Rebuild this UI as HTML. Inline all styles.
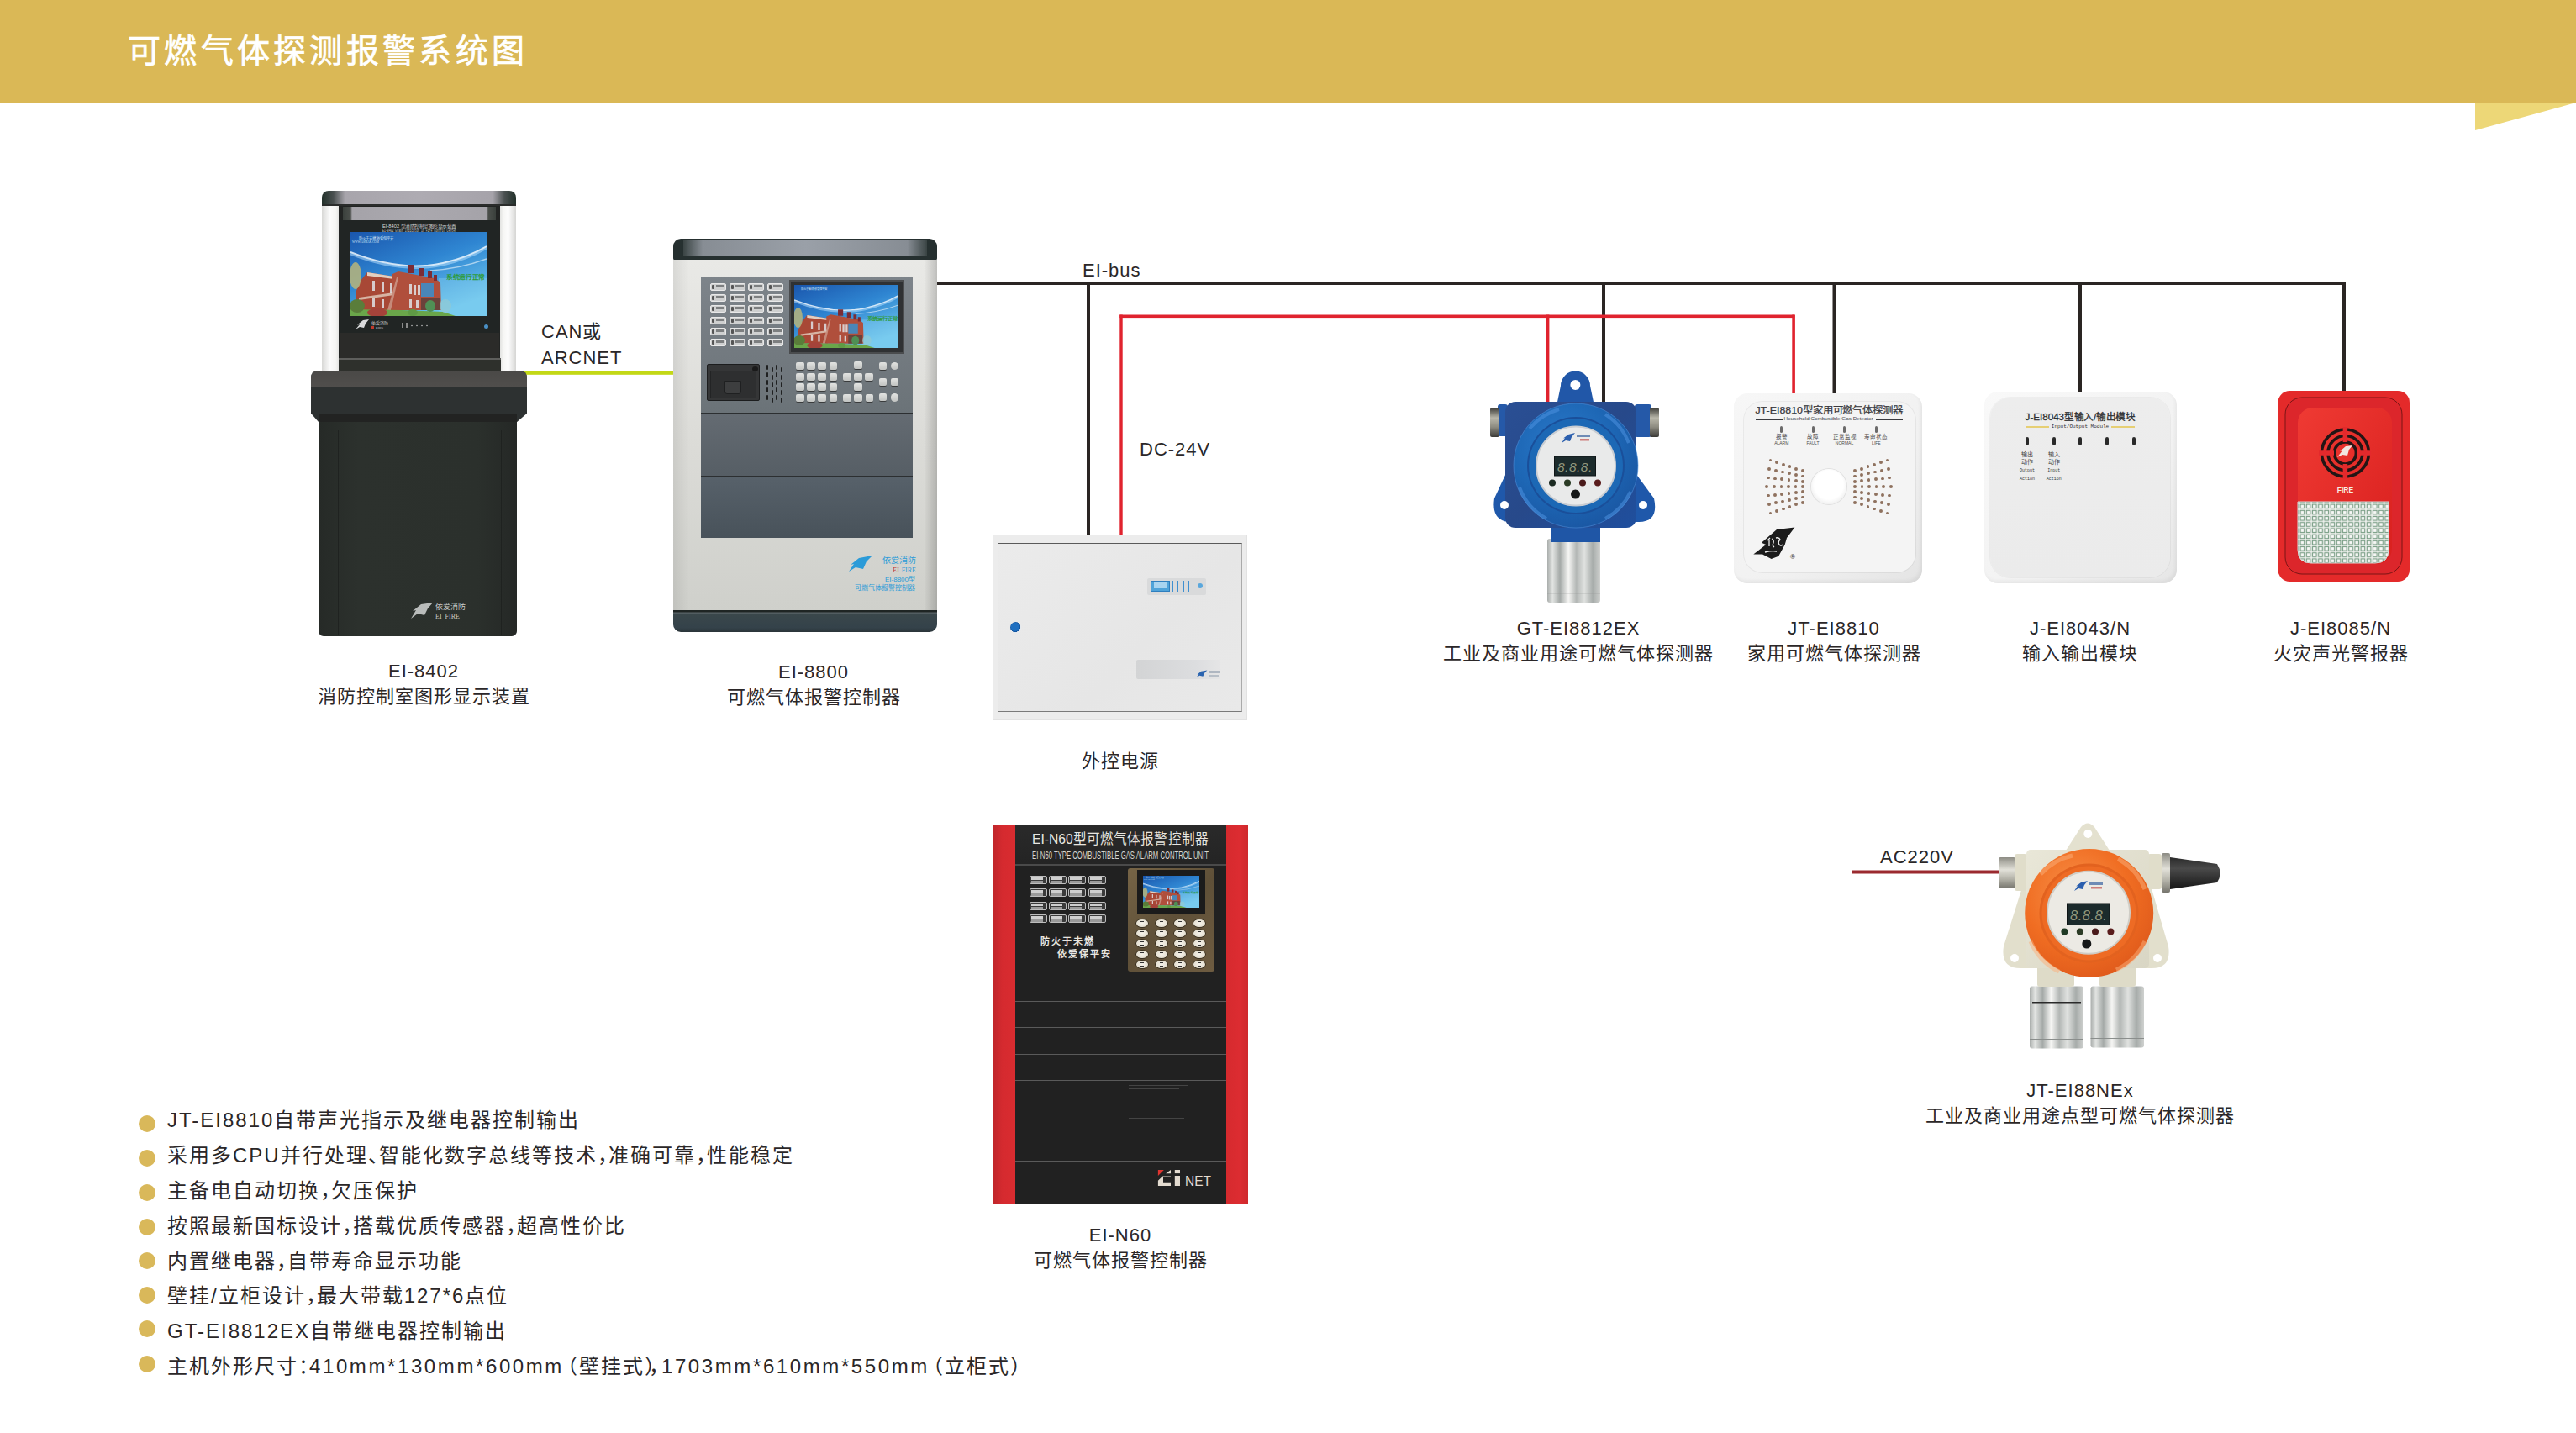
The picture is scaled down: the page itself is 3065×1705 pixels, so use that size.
<!DOCTYPE html>
<html lang="zh-CN">
<head>
<meta charset="utf-8">
<style>
*{box-sizing:border-box;margin:0;padding:0}
html,body{width:3065px;height:1705px;overflow:hidden;background:#fff}
body{position:relative;font-family:"Liberation Sans",sans-serif;color:#2b2728}
.a{position:absolute}
.hdr{left:0;top:0;width:3065px;height:122px;background:#dab856}
.title{left:152px;top:36px;font-size:39px;line-height:50px;color:#fff;letter-spacing:4.3px;font-weight:400;-webkit-text-stroke:.7px #fff;white-space:nowrap}
.lbl{position:absolute;text-align:center;white-space:nowrap;font-size:22px;letter-spacing:1px;line-height:30px}
.bl{position:absolute;left:199px;font-size:24px;letter-spacing:2px;line-height:30px;white-space:nowrap}
.dot{position:absolute;left:165px;width:20px;height:20px;border-radius:50%;background:#d9b85a}
.p{letter-spacing:-11px}
.q{margin-left:-8px}
.w{letter-spacing:2.6px}
</style>
</head>
<body>
<div class="a hdr"></div>
<div class="a title">可燃气体探测报警系统图</div>
<svg class="a" style="left:0;top:0" width="3065" height="1705">
  <polygon points="2945,122 3065,122 2945,155" fill="#edd777"/>
  <!-- green CAN line -->
  <rect x="620" y="441.5" width="182" height="4.3" fill="#c3d816"/>
  <!-- black bus -->
  <g fill="#2a2523">
    <rect x="1114" y="335" width="1677" height="4"/>
    <rect x="2787" y="335" width="4" height="130"/>
    <rect x="1293" y="335" width="4" height="301"/>
    <rect x="1906" y="335" width="4" height="145"/>
    <rect x="2180.5" y="335" width="4" height="134"/>
    <rect x="2473" y="335" width="4" height="131"/>
  </g>
  <g fill="#e0232e">
    <rect x="1332.3" y="374.5" width="803" height="3.6"/>
    <rect x="1332.3" y="374.5" width="3.4" height="262"/>
    <rect x="1840" y="374.5" width="3.4" height="104"/>
    <rect x="2132.3" y="374.5" width="3.6" height="94"/>
  </g>
  <rect x="2203" y="1035.5" width="176" height="4" fill="#9b2a2f"/>
</svg>

<!-- line labels -->
<div class="lbl" style="left:644px;top:379px;text-align:left;line-height:31px">CAN或<br>ARCNET</div>
<div class="lbl" style="left:1288px;top:307px">EI-bus</div>
<div class="lbl" style="left:1356px;top:520px">DC-24V</div>
<div class="lbl" style="left:2237px;top:1005px">AC220V</div>

<!-- product labels -->
<div class="lbl" style="left:204px;width:600px;top:784px">EI-8402<br>消防控制室图形显示装置</div>
<div class="lbl" style="left:668px;width:600px;top:785px">EI-8800<br>可燃气体报警控制器</div>
<div class="lbl" style="left:1033px;width:600px;top:891px">外控电源</div>
<div class="lbl" style="left:1578px;width:600px;top:733px">GT-EI8812EX<br>工业及商业用途可燃气体探测器</div>
<div class="lbl" style="left:1882px;width:600px;top:733px">JT-EI8810<br>家用可燃气体探测器</div>
<div class="lbl" style="left:2175px;width:600px;top:733px">J-EI8043/N<br>输入输出模块</div>
<div class="lbl" style="left:2485px;width:600px;top:733px">J-EI8085/N<br>火灾声光警报器</div>
<div class="lbl" style="left:1033px;width:600px;top:1455px">EI-N60<br>可燃气体报警控制器</div>
<div class="lbl" style="left:2175px;width:600px;top:1283px">JT-EI88NEx<br>工业及商业用途点型可燃气体探测器</div>

<!-- bullets -->
<div class="dot" style="top:1327px"></div>
<div class="dot" style="top:1368px"></div>
<div class="dot" style="top:1409px"></div>
<div class="dot" style="top:1450px"></div>
<div class="dot" style="top:1490px"></div>
<div class="dot" style="top:1531px"></div>
<div class="dot" style="top:1571px"></div>
<div class="dot" style="top:1613px"></div>
<div class="bl" style="top:1318.4px">JT-EI8810自带声光指示及继电器控制输出</div>
<div class="bl" style="top:1360.2px">采用多CPU并行处理<span class="p">、</span>智能化数字总线等技术<span class="p">，</span>准确可靠<span class="p">，</span>性能稳定</div>
<div class="bl" style="top:1402px">主备电自动切换<span class="p">，</span>欠压保护</div>
<div class="bl" style="top:1443.8px">按照最新国标设计<span class="p">，</span>搭载优质传感器<span class="p">，</span>超高性价比</div>
<div class="bl" style="top:1485.6px">内置继电器<span class="p">，</span>自带寿命显示功能</div>
<div class="bl" style="top:1527.4px">壁挂/立柜设计<span class="p">，</span>最大带载127*6点位</div>
<div class="bl" style="top:1569.2px">GT-EI8812EX自带继电器控制输出</div>
<div class="bl" style="top:1611px">主机外形尺寸<span class="p">：</span><span class="w">410mm*130mm*600mm</span><span class="q">（</span>壁挂式<span class="p">）</span><span style="margin-left:4px;letter-spacing:-9px">，</span><span class="w">1703mm*610mm*550mm</span><span class="q">（</span>立柜式）</div>

<!-- PRODUCTS -->
<svg width="0" height="0" style="position:absolute">
<defs>
  <linearGradient id="sky" x1="0" y1="0" x2="0.6" y2="1">
    <stop offset="0" stop-color="#1a56ad"/>
    <stop offset="0.5" stop-color="#2f86d2"/>
    <stop offset="1" stop-color="#6cc6ee"/>
  </linearGradient>
  <linearGradient id="steel" x1="0" y1="0" x2="1" y2="0">
    <stop offset="0" stop-color="#a9adab"/>
    <stop offset="0.1" stop-color="#e2e4e2"/>
    <stop offset="0.24" stop-color="#a4a9a7"/>
    <stop offset="0.4" stop-color="#f6f6f4"/>
    <stop offset="0.55" stop-color="#b3b7b5"/>
    <stop offset="0.7" stop-color="#e0e2e0"/>
    <stop offset="0.86" stop-color="#a7acaa"/>
    <stop offset="1" stop-color="#cfd1cf"/>
  </linearGradient>
  <symbol id="scr" viewBox="0 0 162 100" preserveAspectRatio="none">
    <rect width="162" height="100" fill="url(#sky)"/>
    <path d="M0 24 Q60 48 110 37 Q140 30 162 17" stroke="#ffffff" stroke-opacity=".8" stroke-width="2" fill="none"/>
    <path d="M0 26 Q60 50 110 39 Q140 32 162 19" stroke="#bfe6ff" stroke-opacity=".5" stroke-width="3" fill="none"/>
    <path d="M95 46 Q130 44 162 32" stroke="#ffffff" stroke-opacity=".55" stroke-width="1.5" fill="none"/>
    <rect x="105" y="55" width="57" height="45" fill="#8fd3f2" fill-opacity=".35"/>
    <polygon points="6,72 12,58 20,48 52,53 52,93 6,93" fill="#a84836"/>
    <polygon points="20,48 52,53 52,56 20,52" fill="#e2cfc0"/>
    <polygon points="10,78 52,72 52,75 10,81" fill="#e2cfc0" fill-opacity=".8"/>
    <polygon points="50,50 57,47 100,55 107,60 108,93 50,93" fill="#b04f3c"/>
    <polygon points="44,93 55,54 57,54 48,93" fill="#d9b6a6" fill-opacity=".6"/>
    <rect x="84" y="61" width="15" height="16" fill="#4a86b8"/>
    <g fill="#7b2c35"><rect x="68" y="39" width="8" height="10"/><rect x="82" y="43" width="6" height="9"/><rect x="92" y="47" width="5" height="8"/><rect x="99" y="51" width="4" height="7"/></g>
    <g fill="#dfe3e6" fill-opacity=".85">
      <rect x="26" y="58" width="3" height="12"/><rect x="37" y="60" width="3" height="12"/><rect x="47" y="61" width="3" height="12"/>
      <rect x="26" y="79" width="3" height="10"/><rect x="37" y="80" width="3" height="10"/>
      <rect x="70" y="62" width="3" height="12"/><rect x="75" y="63" width="3" height="12"/><rect x="80" y="63" width="3" height="12"/>
      <rect x="70" y="80" width="3" height="10"/><rect x="78" y="81" width="3" height="9"/>
    </g>
    <rect x="84" y="79" width="22" height="14" fill="#3d3a3a" fill-opacity=".6"/>
    <polygon points="0,92 60,93 110,95 125,100 0,100" fill="#6aa64a"/>
    <ellipse cx="32" cy="96" rx="12" ry="5" fill="#a5433a"/>
    <ellipse cx="74" cy="96" rx="6" ry="4" fill="#5f9a45"/>
    <ellipse cx="95" cy="88" rx="6" ry="7" fill="#4f8f55"/>
    <ellipse cx="113" cy="88" rx="7" ry="8" fill="#8fc9d6" fill-opacity=".8"/>
    <ellipse cx="6" cy="52" rx="7" ry="16" fill="#b9b57a" fill-opacity=".85"/>
    <ellipse cx="8" cy="88" rx="9" ry="8" fill="#5a7d3a"/>
    <text x="114" y="56" font-size="7" fill="#2e9b3a" font-family="Liberation Serif,serif" font-weight="bold" textLength="46" lengthAdjust="spacingAndGlyphs">系统运行正常</text>
    <text x="10" y="8.5" font-size="4.5" fill="#cfe3f5">防火于未燃 依爱保平安</text>
    <text x="2" y="12.5" font-size="3.5" fill="#cfe3f5" font-family="Liberation Serif,serif">WWW.ASMAK.COM</text>
  </symbol>
</defs>
</svg>

<!--P1-->
<!-- EI-8402 kiosk -->
<div class="a" style="left:383px;top:227px;width:231px;height:18px;border-radius:8px 8px 0 0;background:linear-gradient(90deg,#22302a,#4a5050 6%,#a8a5ac 12%,#aeabb2 50%,#a6a3aa 88%,#4a5050 94%,#22302a)"></div><div class="a" style="left:383px;top:243px;width:231px;height:2px;background:#2a2c2b"></div>
<div class="a" style="left:383px;top:245px;width:24px;height:197px;background:linear-gradient(90deg,#d8d8d6,#fbfbfb 40%,#f4f4f2 70%,#cfd0ce)"></div>
<div class="a" style="left:591px;top:245px;width:23px;height:197px;background:linear-gradient(90deg,#cfd0ce,#f6f6f4 35%,#fdfdfd 60%,#d6d6d4)"></div>
<div class="a" style="left:403px;top:245px;width:192px;height:197px;background:#222423"></div>
<div class="a" style="left:408px;top:246px;width:182px;height:16px;background:linear-gradient(90deg,#3a403c,#4b4f4b 5%,#a5a3a9 6%,#aaa8ae 50%,#a5a3a9 94%,#4b4f4b 95%,#3a403c)"></div>
<div class="a" style="left:404px;top:262px;width:190px;height:134px;background:#212524"></div>
<svg class="a" style="left:450px;top:265px" width="100" height="12"><text x="5" y="5.5" font-size="5.2" textLength="88" lengthAdjust="spacingAndGlyphs" fill="#d8d8d8">EI-8402 型消防控制室图形显示装置</text><text x="5" y="11" font-size="4.8" textLength="88" lengthAdjust="spacingAndGlyphs" fill="#c8c8c8" font-family="Liberation Mono,monospace">EI-8402 Graph Indicator In Fire Control Center</text></svg>

<svg class="a" style="left:417px;top:276px" width="162" height="100" viewBox="0 0 162 100"><use href="#scr"/></svg>
<svg class="a" style="left:420px;top:378px" width="100" height="16"><path d="M3 14 L8 8 L5 8.5 L12 3 L19 2 L15 7 L13 12 L8 11 Z" fill="#d9dadb"/><text x="22" y="8" font-size="5" fill="#cfcfcf">依爱消防</text><rect x="22" y="10" width="3" height="3.5" fill="#c0392b"/><text x="27" y="13.5" font-size="4" fill="#bfbfbf">FIRE</text><rect x="58" y="6" width="2" height="6" fill="#8a8a8a"/><rect x="63" y="6" width="2" height="6" fill="#8a8a8a"/><g fill="#bdbdbd"><circle cx="70" cy="9.5" r=".8"/><circle cx="76" cy="9.5" r=".8"/><circle cx="82" cy="9.5" r=".8"/><circle cx="88" cy="9.5" r=".8"/></g></svg>

<div class="a" style="left:576px;top:386px;width:5px;height:5px;border-radius:50%;background:#4a8fc4"></div>
<div class="a" style="left:404px;top:396px;width:190px;height:30px;background:#2b2b29"></div>
<div class="a" style="left:403px;top:426px;width:193px;height:2px;background:#5e5e5c"></div><div class="a" style="left:403px;top:428px;width:193px;height:14px;background:#2e302c"></div>
<div class="a" style="left:370px;top:441px;width:257px;height:61px;background:#2d3131;clip-path:polygon(0 0,100% 0,100% 83%,95.4% 100%,3.5% 100%,0 83%);border-radius:8px 8px 0 0"></div>
<div class="a" style="left:370px;top:441px;width:257px;height:19px;background:linear-gradient(#4a4947,#504e4c);border-radius:8px 8px 0 0"></div>
<div class="a" style="left:379px;top:492px;width:236px;height:265px;background:linear-gradient(90deg,#262a27,#2c312d 20%,#2b302c 80%,#252826);border-radius:0 0 6px 6px"></div>
<div class="a" style="left:379px;top:492px;width:236px;height:10px;background:#222322"></div>
<div class="a" style="left:402px;top:512px;width:1px;height:244px;background:#1f2220"></div>
<div class="a" style="left:596px;top:512px;width:1px;height:244px;background:#1f2220"></div>

<svg class="a" style="left:487px;top:716px" width="30" height="22" viewBox="0 0 30 22"><path d="M2 20 L8 10 L4 11 L14 3 L28 1 L22 8 L18 16 L10 14 Z" fill="#b9bcbb"/></svg>
<div class="a" style="left:518px;top:717px;width:40px;font-size:9px;line-height:11px;color:#c9cbc9;white-space:nowrap">依爱消防<br><span style="font-family:'Liberation Serif',serif;font-size:8px">EI&nbsp;&nbsp;FIRE</span></div>

<!--/P1-->
<!--P2-->
<!-- EI-8800 -->
<div class="a" style="left:801px;top:284px;width:314px;height:26px;border-radius:9px 9px 3px 3px;background:#263030;overflow:hidden"><div style="position:absolute;left:12px;right:12px;top:2px;height:19px;background:linear-gradient(90deg,#3a4444,#878d94 8%,#9aa0a8 50%,#878d94 92%,#3a4444)"></div></div>
<div class="a" style="left:801px;top:309px;width:314px;height:418px;background:linear-gradient(90deg,rgba(0,0,0,.07),rgba(0,0,0,0) 6%,rgba(0,0,0,0) 95%,rgba(0,0,0,.18)),linear-gradient(#e9e9e6,#dcdcd8 50%,#cfd0cb)"></div>
<div class="a" style="left:801px;top:726px;width:314px;height:26px;border-radius:0 0 9px 9px;background:linear-gradient(#1f2524 0,#1f2524 2px,#5a6468 3px,#3a474b 5px,#34424a 80%,#2a3438)"></div>
<div class="a" style="left:834px;top:329px;width:252px;height:163px;background:linear-gradient(#7d848a,#747b81 50%,#6b7378)"></div>
<div class="a" style="left:834px;top:491px;width:252px;height:2px;background:#2c2f31"></div>
<div class="a" style="left:834px;top:493px;width:252px;height:73px;background:linear-gradient(#646b72,#565e65)"></div>
<div class="a" style="left:834px;top:566px;width:252px;height:2px;background:#2c2f31"></div>
<div class="a" style="left:834px;top:568px;width:252px;height:72px;background:linear-gradient(#57616a,#48525a)"></div>
<div class="a" style="left:939px;top:333px;width:137px;height:88px;background:#2f3133;border:2px solid #4a4c4e"></div>
<svg class="a" style="left:945px;top:339px" width="124" height="75" viewBox="0 0 162 100" preserveAspectRatio="none"><use href="#scr"/></svg>
<div class="a" style="left:845.0px;top:337.0px;width:19px;height:9px;border-radius:2px;background:#cfd0d0;border:1px solid #e8e8e8"><div style="position:absolute;left:1px;top:1px;width:3px;height:5px;background:#555;border-radius:1px"></div><div style="position:absolute;left:6px;top:1px;width:10px;height:3px;background:#7d7f80"></div></div>
<div class="a" style="left:867.6px;top:337.0px;width:19px;height:9px;border-radius:2px;background:#cfd0d0;border:1px solid #e8e8e8"><div style="position:absolute;left:1px;top:1px;width:3px;height:5px;background:#555;border-radius:1px"></div><div style="position:absolute;left:6px;top:1px;width:10px;height:3px;background:#7d7f80"></div></div>
<div class="a" style="left:890.2px;top:337.0px;width:19px;height:9px;border-radius:2px;background:#cfd0d0;border:1px solid #e8e8e8"><div style="position:absolute;left:1px;top:1px;width:3px;height:5px;background:#555;border-radius:1px"></div><div style="position:absolute;left:6px;top:1px;width:10px;height:3px;background:#7d7f80"></div></div>
<div class="a" style="left:912.8px;top:337.0px;width:19px;height:9px;border-radius:2px;background:#cfd0d0;border:1px solid #e8e8e8"><div style="position:absolute;left:1px;top:1px;width:3px;height:5px;background:#555;border-radius:1px"></div><div style="position:absolute;left:6px;top:1px;width:10px;height:3px;background:#7d7f80"></div></div>
<div class="a" style="left:845.0px;top:350.2px;width:19px;height:9px;border-radius:2px;background:#cfd0d0;border:1px solid #e8e8e8"><div style="position:absolute;left:1px;top:1px;width:3px;height:5px;background:#555;border-radius:1px"></div><div style="position:absolute;left:6px;top:1px;width:10px;height:3px;background:#7d7f80"></div></div>
<div class="a" style="left:867.6px;top:350.2px;width:19px;height:9px;border-radius:2px;background:#cfd0d0;border:1px solid #e8e8e8"><div style="position:absolute;left:1px;top:1px;width:3px;height:5px;background:#555;border-radius:1px"></div><div style="position:absolute;left:6px;top:1px;width:10px;height:3px;background:#7d7f80"></div></div>
<div class="a" style="left:890.2px;top:350.2px;width:19px;height:9px;border-radius:2px;background:#cfd0d0;border:1px solid #e8e8e8"><div style="position:absolute;left:1px;top:1px;width:3px;height:5px;background:#555;border-radius:1px"></div><div style="position:absolute;left:6px;top:1px;width:10px;height:3px;background:#7d7f80"></div></div>
<div class="a" style="left:912.8px;top:350.2px;width:19px;height:9px;border-radius:2px;background:#cfd0d0;border:1px solid #e8e8e8"><div style="position:absolute;left:1px;top:1px;width:3px;height:5px;background:#555;border-radius:1px"></div><div style="position:absolute;left:6px;top:1px;width:10px;height:3px;background:#7d7f80"></div></div>
<div class="a" style="left:845.0px;top:363.4px;width:19px;height:9px;border-radius:2px;background:#cfd0d0;border:1px solid #e8e8e8"><div style="position:absolute;left:1px;top:1px;width:3px;height:5px;background:#555;border-radius:1px"></div><div style="position:absolute;left:6px;top:1px;width:10px;height:3px;background:#7d7f80"></div></div>
<div class="a" style="left:867.6px;top:363.4px;width:19px;height:9px;border-radius:2px;background:#cfd0d0;border:1px solid #e8e8e8"><div style="position:absolute;left:1px;top:1px;width:3px;height:5px;background:#555;border-radius:1px"></div><div style="position:absolute;left:6px;top:1px;width:10px;height:3px;background:#7d7f80"></div></div>
<div class="a" style="left:890.2px;top:363.4px;width:19px;height:9px;border-radius:2px;background:#cfd0d0;border:1px solid #e8e8e8"><div style="position:absolute;left:1px;top:1px;width:3px;height:5px;background:#555;border-radius:1px"></div><div style="position:absolute;left:6px;top:1px;width:10px;height:3px;background:#7d7f80"></div></div>
<div class="a" style="left:912.8px;top:363.4px;width:19px;height:9px;border-radius:2px;background:#cfd0d0;border:1px solid #e8e8e8"><div style="position:absolute;left:1px;top:1px;width:3px;height:5px;background:#555;border-radius:1px"></div><div style="position:absolute;left:6px;top:1px;width:10px;height:3px;background:#7d7f80"></div></div>
<div class="a" style="left:845.0px;top:376.6px;width:19px;height:9px;border-radius:2px;background:#cfd0d0;border:1px solid #e8e8e8"><div style="position:absolute;left:1px;top:1px;width:3px;height:5px;background:#555;border-radius:1px"></div><div style="position:absolute;left:6px;top:1px;width:10px;height:3px;background:#7d7f80"></div></div>
<div class="a" style="left:867.6px;top:376.6px;width:19px;height:9px;border-radius:2px;background:#cfd0d0;border:1px solid #e8e8e8"><div style="position:absolute;left:1px;top:1px;width:3px;height:5px;background:#555;border-radius:1px"></div><div style="position:absolute;left:6px;top:1px;width:10px;height:3px;background:#7d7f80"></div></div>
<div class="a" style="left:890.2px;top:376.6px;width:19px;height:9px;border-radius:2px;background:#cfd0d0;border:1px solid #e8e8e8"><div style="position:absolute;left:1px;top:1px;width:3px;height:5px;background:#555;border-radius:1px"></div><div style="position:absolute;left:6px;top:1px;width:10px;height:3px;background:#7d7f80"></div></div>
<div class="a" style="left:912.8px;top:376.6px;width:19px;height:9px;border-radius:2px;background:#cfd0d0;border:1px solid #e8e8e8"><div style="position:absolute;left:1px;top:1px;width:3px;height:5px;background:#555;border-radius:1px"></div><div style="position:absolute;left:6px;top:1px;width:10px;height:3px;background:#7d7f80"></div></div>
<div class="a" style="left:845.0px;top:389.8px;width:19px;height:9px;border-radius:2px;background:#cfd0d0;border:1px solid #e8e8e8"><div style="position:absolute;left:1px;top:1px;width:3px;height:5px;background:#555;border-radius:1px"></div><div style="position:absolute;left:6px;top:1px;width:10px;height:3px;background:#7d7f80"></div></div>
<div class="a" style="left:867.6px;top:389.8px;width:19px;height:9px;border-radius:2px;background:#cfd0d0;border:1px solid #e8e8e8"><div style="position:absolute;left:1px;top:1px;width:3px;height:5px;background:#555;border-radius:1px"></div><div style="position:absolute;left:6px;top:1px;width:10px;height:3px;background:#7d7f80"></div></div>
<div class="a" style="left:890.2px;top:389.8px;width:19px;height:9px;border-radius:2px;background:#cfd0d0;border:1px solid #e8e8e8"><div style="position:absolute;left:1px;top:1px;width:3px;height:5px;background:#555;border-radius:1px"></div><div style="position:absolute;left:6px;top:1px;width:10px;height:3px;background:#7d7f80"></div></div>
<div class="a" style="left:912.8px;top:389.8px;width:19px;height:9px;border-radius:2px;background:#cfd0d0;border:1px solid #e8e8e8"><div style="position:absolute;left:1px;top:1px;width:3px;height:5px;background:#555;border-radius:1px"></div><div style="position:absolute;left:6px;top:1px;width:10px;height:3px;background:#7d7f80"></div></div>
<div class="a" style="left:845.0px;top:403.0px;width:19px;height:9px;border-radius:2px;background:#cfd0d0;border:1px solid #e8e8e8"><div style="position:absolute;left:1px;top:1px;width:3px;height:5px;background:#555;border-radius:1px"></div><div style="position:absolute;left:6px;top:1px;width:10px;height:3px;background:#7d7f80"></div></div>
<div class="a" style="left:867.6px;top:403.0px;width:19px;height:9px;border-radius:2px;background:#cfd0d0;border:1px solid #e8e8e8"><div style="position:absolute;left:1px;top:1px;width:3px;height:5px;background:#555;border-radius:1px"></div><div style="position:absolute;left:6px;top:1px;width:10px;height:3px;background:#7d7f80"></div></div>
<div class="a" style="left:890.2px;top:403.0px;width:19px;height:9px;border-radius:2px;background:#cfd0d0;border:1px solid #e8e8e8"><div style="position:absolute;left:1px;top:1px;width:3px;height:5px;background:#555;border-radius:1px"></div><div style="position:absolute;left:6px;top:1px;width:10px;height:3px;background:#7d7f80"></div></div>
<div class="a" style="left:912.8px;top:403.0px;width:19px;height:9px;border-radius:2px;background:#cfd0d0;border:1px solid #e8e8e8"><div style="position:absolute;left:1px;top:1px;width:3px;height:5px;background:#555;border-radius:1px"></div><div style="position:absolute;left:6px;top:1px;width:10px;height:3px;background:#7d7f80"></div></div>
<div class="a" style="left:841px;top:433px;width:63px;height:44px;background:#353637;border:1px solid #1c1d1e;border-radius:2px"></div>
<div class="a" style="left:845px;top:441px;width:55px;height:33px;background:#2e2f30;border:1px solid #232425"></div>
<div class="a" style="left:862px;top:453px;width:20px;height:16px;background:#3d3e3f;border:1px solid #1f2021;border-radius:0 0 3px 3px"></div>
<div class="a" style="left:895px;top:436px;width:7px;height:6px;border-radius:50%;background:#1a1a1a"></div>
<div class="a" style="left:912.0px;top:434px;width:2px;height:6px;background:#1f2021;border-radius:1px"></div>
<div class="a" style="left:912.0px;top:443px;width:2px;height:6px;background:#1f2021;border-radius:1px"></div>
<div class="a" style="left:912.0px;top:452px;width:2px;height:6px;background:#1f2021;border-radius:1px"></div>
<div class="a" style="left:912.0px;top:461px;width:2px;height:6px;background:#1f2021;border-radius:1px"></div>
<div class="a" style="left:912.0px;top:470px;width:2px;height:6px;background:#1f2021;border-radius:1px"></div>
<div class="a" style="left:917.6px;top:437px;width:2px;height:6px;background:#1f2021;border-radius:1px"></div>
<div class="a" style="left:917.6px;top:446px;width:2px;height:6px;background:#1f2021;border-radius:1px"></div>
<div class="a" style="left:917.6px;top:455px;width:2px;height:6px;background:#1f2021;border-radius:1px"></div>
<div class="a" style="left:917.6px;top:464px;width:2px;height:6px;background:#1f2021;border-radius:1px"></div>
<div class="a" style="left:917.6px;top:473px;width:2px;height:6px;background:#1f2021;border-radius:1px"></div>
<div class="a" style="left:923.2px;top:434px;width:2px;height:6px;background:#1f2021;border-radius:1px"></div>
<div class="a" style="left:923.2px;top:443px;width:2px;height:6px;background:#1f2021;border-radius:1px"></div>
<div class="a" style="left:923.2px;top:452px;width:2px;height:6px;background:#1f2021;border-radius:1px"></div>
<div class="a" style="left:923.2px;top:461px;width:2px;height:6px;background:#1f2021;border-radius:1px"></div>
<div class="a" style="left:923.2px;top:470px;width:2px;height:6px;background:#1f2021;border-radius:1px"></div>
<div class="a" style="left:928.8px;top:437px;width:2px;height:6px;background:#1f2021;border-radius:1px"></div>
<div class="a" style="left:928.8px;top:446px;width:2px;height:6px;background:#1f2021;border-radius:1px"></div>
<div class="a" style="left:928.8px;top:455px;width:2px;height:6px;background:#1f2021;border-radius:1px"></div>
<div class="a" style="left:928.8px;top:464px;width:2px;height:6px;background:#1f2021;border-radius:1px"></div>
<div class="a" style="left:928.8px;top:473px;width:2px;height:6px;background:#1f2021;border-radius:1px"></div>
<div class="a" style="left:947.0px;top:430.5px;width:9.5px;height:9px;border-radius:2px;background:linear-gradient(#e2e3e1,#c2c4c2);box-shadow:0 1px 0 #3a3c3d"></div>
<div class="a" style="left:960.0px;top:430.5px;width:9.5px;height:9px;border-radius:2px;background:linear-gradient(#e2e3e1,#c2c4c2);box-shadow:0 1px 0 #3a3c3d"></div>
<div class="a" style="left:973.0px;top:430.5px;width:9.5px;height:9px;border-radius:2px;background:linear-gradient(#e2e3e1,#c2c4c2);box-shadow:0 1px 0 #3a3c3d"></div>
<div class="a" style="left:986.5px;top:430.5px;width:9.5px;height:9px;border-radius:2px;background:linear-gradient(#e2e3e1,#c2c4c2);box-shadow:0 1px 0 #3a3c3d"></div>
<div class="a" style="left:947.0px;top:443.6px;width:9.5px;height:9px;border-radius:2px;background:linear-gradient(#e2e3e1,#c2c4c2);box-shadow:0 1px 0 #3a3c3d"></div>
<div class="a" style="left:960.0px;top:443.6px;width:9.5px;height:9px;border-radius:2px;background:linear-gradient(#e2e3e1,#c2c4c2);box-shadow:0 1px 0 #3a3c3d"></div>
<div class="a" style="left:973.0px;top:443.6px;width:9.5px;height:9px;border-radius:2px;background:linear-gradient(#e2e3e1,#c2c4c2);box-shadow:0 1px 0 #3a3c3d"></div>
<div class="a" style="left:986.5px;top:443.6px;width:9.5px;height:9px;border-radius:2px;background:linear-gradient(#e2e3e1,#c2c4c2);box-shadow:0 1px 0 #3a3c3d"></div>
<div class="a" style="left:947.0px;top:455.8px;width:9.5px;height:9px;border-radius:2px;background:linear-gradient(#e2e3e1,#c2c4c2);box-shadow:0 1px 0 #3a3c3d"></div>
<div class="a" style="left:960.0px;top:455.8px;width:9.5px;height:9px;border-radius:2px;background:linear-gradient(#e2e3e1,#c2c4c2);box-shadow:0 1px 0 #3a3c3d"></div>
<div class="a" style="left:973.0px;top:455.8px;width:9.5px;height:9px;border-radius:2px;background:linear-gradient(#e2e3e1,#c2c4c2);box-shadow:0 1px 0 #3a3c3d"></div>
<div class="a" style="left:986.5px;top:455.8px;width:9.5px;height:9px;border-radius:2px;background:linear-gradient(#e2e3e1,#c2c4c2);box-shadow:0 1px 0 #3a3c3d"></div>
<div class="a" style="left:947.0px;top:469.0px;width:9.5px;height:9px;border-radius:2px;background:linear-gradient(#e2e3e1,#c2c4c2);box-shadow:0 1px 0 #3a3c3d"></div>
<div class="a" style="left:960.0px;top:469.0px;width:9.5px;height:9px;border-radius:2px;background:linear-gradient(#e2e3e1,#c2c4c2);box-shadow:0 1px 0 #3a3c3d"></div>
<div class="a" style="left:973.0px;top:469.0px;width:9.5px;height:9px;border-radius:2px;background:linear-gradient(#e2e3e1,#c2c4c2);box-shadow:0 1px 0 #3a3c3d"></div>
<div class="a" style="left:986.5px;top:469.0px;width:9.5px;height:9px;border-radius:2px;background:linear-gradient(#e2e3e1,#c2c4c2);box-shadow:0 1px 0 #3a3c3d"></div>
<div class="a" style="left:1016.0px;top:430.0px;width:9.5px;height:9px;border-radius:2px;background:linear-gradient(#e2e3e1,#c2c4c2);box-shadow:0 1px 0 #3a3c3d"></div>
<div class="a" style="left:1003.0px;top:443.6px;width:9.5px;height:9px;border-radius:2px;background:linear-gradient(#e2e3e1,#c2c4c2);box-shadow:0 1px 0 #3a3c3d"></div>
<div class="a" style="left:1016.0px;top:443.6px;width:9.5px;height:9px;border-radius:2px;background:linear-gradient(#e2e3e1,#c2c4c2);box-shadow:0 1px 0 #3a3c3d"></div>
<div class="a" style="left:1029.0px;top:443.6px;width:9.5px;height:9px;border-radius:2px;background:linear-gradient(#e2e3e1,#c2c4c2);box-shadow:0 1px 0 #3a3c3d"></div>
<div class="a" style="left:1016.0px;top:455.8px;width:9.5px;height:9px;border-radius:2px;background:linear-gradient(#e2e3e1,#c2c4c2);box-shadow:0 1px 0 #3a3c3d"></div>
<div class="a" style="left:1003.0px;top:469.0px;width:9.5px;height:9px;border-radius:2px;background:linear-gradient(#e2e3e1,#c2c4c2);box-shadow:0 1px 0 #3a3c3d"></div>
<div class="a" style="left:1016.0px;top:469.0px;width:9.5px;height:9px;border-radius:2px;background:linear-gradient(#e2e3e1,#c2c4c2);box-shadow:0 1px 0 #3a3c3d"></div>
<div class="a" style="left:1029.5px;top:469.0px;width:9.5px;height:9px;border-radius:2px;background:linear-gradient(#e2e3e1,#c2c4c2);box-shadow:0 1px 0 #3a3c3d"></div>
<div class="a" style="left:1045.6px;top:430.5px;width:9.5px;height:9px;border-radius:2px;background:linear-gradient(#e2e3e1,#c2c4c2);box-shadow:0 1px 0 #3a3c3d"></div>
<div class="a" style="left:1059.5px;top:430.5px;width:9.5px;height:9.5px;border-radius:50%;background:linear-gradient(#e2e3e1,#c2c4c2)"></div>
<div class="a" style="left:1045.6px;top:449.7px;width:9.5px;height:9px;border-radius:2px;background:linear-gradient(#e2e3e1,#c2c4c2);box-shadow:0 1px 0 #3a3c3d"></div>
<div class="a" style="left:1059.5px;top:449.7px;width:9.5px;height:9px;border-radius:2px;background:linear-gradient(#e2e3e1,#c2c4c2);box-shadow:0 1px 0 #3a3c3d"></div>
<div class="a" style="left:1045.6px;top:468.0px;width:9.5px;height:9px;border-radius:2px;background:linear-gradient(#e2e3e1,#c2c4c2);box-shadow:0 1px 0 #3a3c3d"></div>
<div class="a" style="left:1059.5px;top:468px;width:9.5px;height:9.5px;border-radius:50%;background:linear-gradient(#e2e3e1,#c2c4c2)"></div>
<svg class="a" style="left:1008px;top:660px" width="32" height="22" viewBox="0 0 30 22"><path d="M1 20 L7 11 L3 12 L13 4 L29 1 L22 8 L18 17 L9 15 Z" fill="#2b9bd8"/></svg>
<div class="a" style="left:1040px;top:661px;width:50px;font-size:10px;line-height:11px;color:#2b9bd8;white-space:nowrap;text-align:right">依爱消防<br><span style="font-family:'Liberation Serif',serif;font-size:8px;color:#c0392b">EI</span> <span style="font-family:'Liberation Serif',serif;font-size:8px">FIRE</span></div>
<div class="a" style="left:1000px;top:685px;width:89px;font-size:8px;line-height:10px;color:#2b9bd8;white-space:nowrap;text-align:right">EI-8800型<br>可燃气体报警控制器</div>
<!--/P2-->
<!--P3-->
<!-- Power box -->
<div class="a" style="left:1181px;top:636px;width:303px;height:221px;background:#ececec;box-shadow:inset 0 0 0 1px #e2e2e2"></div>
<div class="a" style="left:1187px;top:646px;width:291px;height:201px;background:linear-gradient(135deg,#ebebeb,#e6e6e6 60%,#e9e9e9);border-top:1.5px solid #5a5a5a;border-left:1.5px solid #6a6a6a;border-bottom:1.5px solid #7a7a7a;border-right:1.5px solid #aaaaaa"></div>
<div class="a" style="left:1365px;top:688px;width:70px;height:20px;background:#d9dadb;border-radius:2px"></div>
<div class="a" style="left:1369px;top:691px;width:23px;height:13px;background:#4fa3d9;border:1px solid #2f7fbf"></div>
<div class="a" style="left:1373px;top:693px;width:15px;height:7px;background:#a8d4f0"></div>
<div class="a" style="left:1394.0px;top:691px;width:2px;height:13px;background:#3f8fd0"></div>
<div class="a" style="left:1400.4px;top:691px;width:2px;height:13px;background:#3f8fd0"></div>
<div class="a" style="left:1406.8px;top:691px;width:2px;height:13px;background:#3f8fd0"></div>
<div class="a" style="left:1413.2px;top:691px;width:2px;height:13px;background:#3f8fd0"></div>
<div class="a" style="left:1425px;top:694px;width:6px;height:6px;border-radius:50%;background:#5aa7dc"></div>
<div class="a" style="left:1202px;top:740px;width:13px;height:13px;border-radius:50%;background:radial-gradient(circle at 45% 45%,#1f6fc0 45%,#0f4f99 60%,#dfe6ee 62%,#ffffff 100%)"></div>
<div class="a" style="left:1352px;top:785px;width:100px;height:23px;background:linear-gradient(90deg,#d3d4d5,#dcdddf 70%,#e5e5e6);border-radius:2px"></div>
<svg class="a" style="left:1423px;top:797px" width="14" height="10" viewBox="0 0 30 22"><path d="M1 20 L7 11 L3 12 L13 4 L29 1 L22 8 L18 17 L9 15 Z" fill="#2a64b0"/></svg>
<div class="a" style="left:1438px;top:798px;width:14px;height:3px;background:#8c99aa;opacity:.6"></div>
<div class="a" style="left:1438px;top:803px;width:12px;height:2px;background:#8c99aa;opacity:.5"></div>
<!--/P3-->
<!--P4-->
<!-- GT-EI8812EX blue detector -->
<svg class="a" style="left:1760px;top:435px" width="230" height="290" viewBox="0 0 230 290">
  <defs>
    <radialGradient id="bluR" cx="0.4" cy="0.35" r="0.7">
      <stop offset="0" stop-color="#2a7acb"/><stop offset="0.6" stop-color="#1d66b4"/><stop offset="1" stop-color="#1a56a2"/>
    </radialGradient>
    <linearGradient id="bluB" x1="0" y1="0" x2="1" y2="1">
      <stop offset="0" stop-color="#2a4f94"/><stop offset="0.5" stop-color="#27498a"/><stop offset="1" stop-color="#1f4f9e"/>
    </linearGradient>
    <linearGradient id="nut" x1="0" y1="0" x2="0" y2="1">
      <stop offset="0" stop-color="#3a3a36"/><stop offset="0.35" stop-color="#b9b7aa"/><stop offset="0.65" stop-color="#8f8d82"/><stop offset="1" stop-color="#3b3a36"/>
    </linearGradient>
  </defs>
  <!-- steel sensor -->
  <rect x="81" y="206" width="63" height="76" rx="3" fill="url(#steel)"/>
  <rect x="81" y="270" width="63" height="1.2" fill="#8a8e8c"/>
  <!-- neck -->
  <rect x="85" y="180" width="59" height="30" fill="#1f56a6"/>
  <!-- ear -->
  <path d="M92 48 L97 24 A17 17 0 0 1 132 24 L137 48 Z" fill="#2157a8"/>
  <circle cx="114.4" cy="23" r="6" fill="#fff"/>
  <!-- flanges -->
  <path d="M32 128 L18 158 Q14 186 38 186 L190 186 Q214 186 208 158 L186 128 Z" fill="#1f58aa"/>
    <!-- glands -->
  <rect x="22" y="46" width="12" height="38" rx="3" fill="#2559a8"/>
  <rect x="13" y="50" width="11" height="35" rx="2" fill="url(#nut)"/>
  <rect x="185" y="46" width="20" height="39" rx="3" fill="#2559a8"/>
  <rect x="203" y="50" width="11" height="35" rx="2" fill="url(#nut)"/>
  <!-- body -->
  <rect x="31" y="43" width="156" height="150" rx="12" fill="url(#bluB)"/>
  <circle cx="30" cy="166" r="5" fill="#fff"/>
  <circle cx="195" cy="166" r="5" fill="#fff"/>
  <!-- ring -->
  <circle cx="115" cy="119" r="74" fill="url(#bluR)"/>
  <circle cx="115" cy="119" r="74" fill="none" stroke="#4b8ddb" stroke-width="1" stroke-opacity=".6"/>
  <g stroke="#4d92e0" stroke-width="4" stroke-opacity=".55" fill="none">
    <path d="M60 75 A70 70 0 0 1 95 52"/><path d="M150 58 A70 70 0 0 1 178 92"/><path d="M180 150 A70 70 0 0 1 150 182"/><path d="M80 182 A70 70 0 0 1 48 145"/>
  </g>
  <circle cx="115" cy="119" r="58" fill="#1a4f9a"/>
  <circle cx="115" cy="119" r="56" fill="#1c68b5"/>
  <circle cx="115" cy="119.5" r="47" fill="#e9eaea"/>
  <circle cx="115" cy="119.5" r="47" fill="none" stroke="#c9cdd2" stroke-width="2"/>
  <!-- logo -->
  <path d="M98 92 L102 86 L100 86.5 L106 82 L114 80 L110 85 L108 90 L103 89 Z" fill="#2b5fae"/>
  <rect x="116" y="82" width="16" height="3" fill="#6f8bb5"/>
  <rect x="120" y="87" width="11" height="2.5" fill="#c0504d" fill-opacity=".7"/>
  <!-- display -->
  <rect x="89.5" y="108" width="49" height="23" fill="#1c2b2c" stroke="#0f1516" stroke-width="1"/>
  <text x="93" y="126" font-family="Liberation Sans,sans-serif" font-size="15.5" font-style="italic" fill="#c9c9a0" fill-opacity=".7" letter-spacing="0.5">8.8.8.</text>
  <!-- leds -->
  <circle cx="87" cy="139.5" r="4" fill="#1b2a22"/><circle cx="105" cy="139.5" r="4" fill="#2b3b25"/>
  <circle cx="123" cy="139.5" r="4" fill="#4a1b1b"/><circle cx="141" cy="139.5" r="4" fill="#5a1d1d"/>
  <circle cx="114.5" cy="153" r="5.5" fill="#161818"/>
</svg>

<!--/P4-->
<!--P5-->
<!-- JT-EI8810 -->
<div class="a" style="left:2063px;top:468px;width:224px;height:226px;border-radius:16px;background:linear-gradient(135deg,#f7f7f7,#f1f1f1 60%,#e4e4e4);box-shadow:inset -2px -3px 4px rgba(0,0,0,.06)"></div>
<div class="a" style="left:2075px;top:478px;width:204px;height:203px;border-radius:22px;background:#f4f4f4;box-shadow:0 0 0 1px rgba(0,0,0,.05)"></div>
<svg class="a" style="left:2080px;top:478px" width="195" height="20"><text x="8.5" y="14" font-size="11.5" textLength="175" lengthAdjust="spacingAndGlyphs" fill="#3a3a3e" stroke="#3a3a3e" stroke-width=".25">JT-EI8810型家用可燃气体探测器</text></svg>
<div class="a" style="left:2089px;top:497.5px;width:32px;height:2px;background:#3a3b40"></div>
<div class="a" style="left:2232px;top:497.5px;width:32px;height:2px;background:#3a3b40"></div>
<svg class="a" style="left:2120px;top:492px" width="112" height="10"><text x="2.5" y="8" font-size="6" textLength="106" lengthAdjust="spacingAndGlyphs" fill="#444">Household Combustible Gas Detector</text></svg>
<div class="a" style="left:2118.3px;top:507px;width:3px;height:8px;border-radius:1.5px;background:#6b6a6a"></div>
<div class="a" style="left:2099.8px;top:516px;width:40px;text-align:center;font-size:6.5px;line-height:7px;color:#4d4a4a;white-space:nowrap">报警<br><span style="font-size:5px">ALARM</span></div>
<div class="a" style="left:2155.5px;top:507px;width:3px;height:8px;border-radius:1.5px;background:#6b6a6a"></div>
<div class="a" style="left:2137.0px;top:516px;width:40px;text-align:center;font-size:6.5px;line-height:7px;color:#4d4a4a;white-space:nowrap">故障<br><span style="font-size:5px">FAULT</span></div>
<div class="a" style="left:2193.0px;top:507px;width:3px;height:8px;border-radius:1.5px;background:#6b6a6a"></div>
<div class="a" style="left:2174.5px;top:516px;width:40px;text-align:center;font-size:6.5px;line-height:7px;color:#4d4a4a;white-space:nowrap">正常监视<br><span style="font-size:5px">NORMAL</span></div>
<div class="a" style="left:2230.9px;top:507px;width:3px;height:8px;border-radius:1.5px;background:#6b6a6a"></div>
<div class="a" style="left:2212.4px;top:516px;width:40px;text-align:center;font-size:6.5px;line-height:7px;color:#4d4a4a;white-space:nowrap">寿命状态<br><span style="font-size:5px">LIFE</span></div>
<div class="a" style="left:2155px;top:558px;width:42px;height:42px;border-radius:50%;background:radial-gradient(circle at 50% 45%,#ffffff 55%,#ececec 80%,#dcdcdc);box-shadow:0 0 0 1px #e0e0e0"></div>
<svg class="a" style="left:2080px;top:620px" width="60" height="50" viewBox="2080 620 60 50"><polygon points="2086.3,659.6 2101.2,647.9 2095.9,645.7 2114,630 2135.4,627.6 2126,640 2123.7,647.9 2116.2,661.8 2107.6,665 2097,659.6" fill="#1c1c1c"/><path d="M2103 643 l3 -3 m-1 2 l0 8 m3 -9 q3 1 2 5 q-2 3 1 5 M2113 640 q4 -1 5 2 q-3 3 -1 6 q2 2 4 0 M2100 657 q8 -2 14 -1" stroke="#f2f2f2" stroke-width="1.3" fill="none"/></svg>
<div class="a" style="left:2104.7px;top:545.6px;width:3.8px;height:3.8px;border-radius:50%;background:#8f725f"></div>
<div class="a" style="left:2243.5px;top:545.6px;width:3.8px;height:3.8px;border-radius:50%;background:#8f725f"></div>
<div class="a" style="left:2112.4px;top:548.2px;width:3.8px;height:3.8px;border-radius:50%;background:#8f725f"></div>
<div class="a" style="left:2235.8px;top:548.2px;width:3.8px;height:3.8px;border-radius:50%;background:#8f725f"></div>
<div class="a" style="left:2120.0px;top:550.8px;width:3.8px;height:3.8px;border-radius:50%;background:#8f725f"></div>
<div class="a" style="left:2228.2px;top:550.8px;width:3.8px;height:3.8px;border-radius:50%;background:#8f725f"></div>
<div class="a" style="left:2127.7px;top:553.3px;width:3.8px;height:3.8px;border-radius:50%;background:#8f725f"></div>
<div class="a" style="left:2220.5px;top:553.3px;width:3.8px;height:3.8px;border-radius:50%;background:#8f725f"></div>
<div class="a" style="left:2135.4px;top:555.9px;width:3.8px;height:3.8px;border-radius:50%;background:#8f725f"></div>
<div class="a" style="left:2212.8px;top:555.9px;width:3.8px;height:3.8px;border-radius:50%;background:#8f725f"></div>
<div class="a" style="left:2143.1px;top:558.4px;width:3.8px;height:3.8px;border-radius:50%;background:#8f725f"></div>
<div class="a" style="left:2205.1px;top:558.4px;width:3.8px;height:3.8px;border-radius:50%;background:#8f725f"></div>
<div class="a" style="left:2103.3px;top:556.1px;width:3.8px;height:3.8px;border-radius:50%;background:#8f725f"></div>
<div class="a" style="left:2244.9px;top:556.1px;width:3.8px;height:3.8px;border-radius:50%;background:#8f725f"></div>
<div class="a" style="left:2111.2px;top:557.8px;width:3.8px;height:3.8px;border-radius:50%;background:#8f725f"></div>
<div class="a" style="left:2237.0px;top:557.8px;width:3.8px;height:3.8px;border-radius:50%;background:#8f725f"></div>
<div class="a" style="left:2119.2px;top:559.5px;width:3.8px;height:3.8px;border-radius:50%;background:#8f725f"></div>
<div class="a" style="left:2229.0px;top:559.5px;width:3.8px;height:3.8px;border-radius:50%;background:#8f725f"></div>
<div class="a" style="left:2127.2px;top:561.3px;width:3.8px;height:3.8px;border-radius:50%;background:#8f725f"></div>
<div class="a" style="left:2221.0px;top:561.3px;width:3.8px;height:3.8px;border-radius:50%;background:#8f725f"></div>
<div class="a" style="left:2135.1px;top:563.0px;width:3.8px;height:3.8px;border-radius:50%;background:#8f725f"></div>
<div class="a" style="left:2213.1px;top:563.0px;width:3.8px;height:3.8px;border-radius:50%;background:#8f725f"></div>
<div class="a" style="left:2143.1px;top:564.7px;width:3.8px;height:3.8px;border-radius:50%;background:#8f725f"></div>
<div class="a" style="left:2205.1px;top:564.7px;width:3.8px;height:3.8px;border-radius:50%;background:#8f725f"></div>
<div class="a" style="left:2101.8px;top:566.6px;width:3.8px;height:3.8px;border-radius:50%;background:#8f725f"></div>
<div class="a" style="left:2246.4px;top:566.6px;width:3.8px;height:3.8px;border-radius:50%;background:#8f725f"></div>
<div class="a" style="left:2110.1px;top:567.5px;width:3.8px;height:3.8px;border-radius:50%;background:#8f725f"></div>
<div class="a" style="left:2238.1px;top:567.5px;width:3.8px;height:3.8px;border-radius:50%;background:#8f725f"></div>
<div class="a" style="left:2118.3px;top:568.3px;width:3.8px;height:3.8px;border-radius:50%;background:#8f725f"></div>
<div class="a" style="left:2229.9px;top:568.3px;width:3.8px;height:3.8px;border-radius:50%;background:#8f725f"></div>
<div class="a" style="left:2126.6px;top:569.2px;width:3.8px;height:3.8px;border-radius:50%;background:#8f725f"></div>
<div class="a" style="left:2221.6px;top:569.2px;width:3.8px;height:3.8px;border-radius:50%;background:#8f725f"></div>
<div class="a" style="left:2134.8px;top:570.0px;width:3.8px;height:3.8px;border-radius:50%;background:#8f725f"></div>
<div class="a" style="left:2213.4px;top:570.0px;width:3.8px;height:3.8px;border-radius:50%;background:#8f725f"></div>
<div class="a" style="left:2143.1px;top:570.9px;width:3.8px;height:3.8px;border-radius:50%;background:#8f725f"></div>
<div class="a" style="left:2205.1px;top:570.9px;width:3.8px;height:3.8px;border-radius:50%;background:#8f725f"></div>
<div class="a" style="left:2100.4px;top:577.1px;width:3.8px;height:3.8px;border-radius:50%;background:#8f725f"></div>
<div class="a" style="left:2247.8px;top:577.1px;width:3.8px;height:3.8px;border-radius:50%;background:#8f725f"></div>
<div class="a" style="left:2108.9px;top:577.1px;width:3.8px;height:3.8px;border-radius:50%;background:#8f725f"></div>
<div class="a" style="left:2239.3px;top:577.1px;width:3.8px;height:3.8px;border-radius:50%;background:#8f725f"></div>
<div class="a" style="left:2117.5px;top:577.1px;width:3.8px;height:3.8px;border-radius:50%;background:#8f725f"></div>
<div class="a" style="left:2230.7px;top:577.1px;width:3.8px;height:3.8px;border-radius:50%;background:#8f725f"></div>
<div class="a" style="left:2126.0px;top:577.1px;width:3.8px;height:3.8px;border-radius:50%;background:#8f725f"></div>
<div class="a" style="left:2222.2px;top:577.1px;width:3.8px;height:3.8px;border-radius:50%;background:#8f725f"></div>
<div class="a" style="left:2134.6px;top:577.1px;width:3.8px;height:3.8px;border-radius:50%;background:#8f725f"></div>
<div class="a" style="left:2213.6px;top:577.1px;width:3.8px;height:3.8px;border-radius:50%;background:#8f725f"></div>
<div class="a" style="left:2143.1px;top:577.1px;width:3.8px;height:3.8px;border-radius:50%;background:#8f725f"></div>
<div class="a" style="left:2205.1px;top:577.1px;width:3.8px;height:3.8px;border-radius:50%;background:#8f725f"></div>
<div class="a" style="left:2101.8px;top:587.6px;width:3.8px;height:3.8px;border-radius:50%;background:#8f725f"></div>
<div class="a" style="left:2246.4px;top:587.6px;width:3.8px;height:3.8px;border-radius:50%;background:#8f725f"></div>
<div class="a" style="left:2110.1px;top:586.8px;width:3.8px;height:3.8px;border-radius:50%;background:#8f725f"></div>
<div class="a" style="left:2238.1px;top:586.8px;width:3.8px;height:3.8px;border-radius:50%;background:#8f725f"></div>
<div class="a" style="left:2118.3px;top:585.9px;width:3.8px;height:3.8px;border-radius:50%;background:#8f725f"></div>
<div class="a" style="left:2229.9px;top:585.9px;width:3.8px;height:3.8px;border-radius:50%;background:#8f725f"></div>
<div class="a" style="left:2126.6px;top:585.1px;width:3.8px;height:3.8px;border-radius:50%;background:#8f725f"></div>
<div class="a" style="left:2221.6px;top:585.1px;width:3.8px;height:3.8px;border-radius:50%;background:#8f725f"></div>
<div class="a" style="left:2134.8px;top:584.2px;width:3.8px;height:3.8px;border-radius:50%;background:#8f725f"></div>
<div class="a" style="left:2213.4px;top:584.2px;width:3.8px;height:3.8px;border-radius:50%;background:#8f725f"></div>
<div class="a" style="left:2143.1px;top:583.4px;width:3.8px;height:3.8px;border-radius:50%;background:#8f725f"></div>
<div class="a" style="left:2205.1px;top:583.4px;width:3.8px;height:3.8px;border-radius:50%;background:#8f725f"></div>
<div class="a" style="left:2103.3px;top:598.1px;width:3.8px;height:3.8px;border-radius:50%;background:#8f725f"></div>
<div class="a" style="left:2244.9px;top:598.1px;width:3.8px;height:3.8px;border-radius:50%;background:#8f725f"></div>
<div class="a" style="left:2111.2px;top:596.4px;width:3.8px;height:3.8px;border-radius:50%;background:#8f725f"></div>
<div class="a" style="left:2237.0px;top:596.4px;width:3.8px;height:3.8px;border-radius:50%;background:#8f725f"></div>
<div class="a" style="left:2119.2px;top:594.7px;width:3.8px;height:3.8px;border-radius:50%;background:#8f725f"></div>
<div class="a" style="left:2229.0px;top:594.7px;width:3.8px;height:3.8px;border-radius:50%;background:#8f725f"></div>
<div class="a" style="left:2127.2px;top:593.0px;width:3.8px;height:3.8px;border-radius:50%;background:#8f725f"></div>
<div class="a" style="left:2221.0px;top:593.0px;width:3.8px;height:3.8px;border-radius:50%;background:#8f725f"></div>
<div class="a" style="left:2135.1px;top:591.3px;width:3.8px;height:3.8px;border-radius:50%;background:#8f725f"></div>
<div class="a" style="left:2213.1px;top:591.3px;width:3.8px;height:3.8px;border-radius:50%;background:#8f725f"></div>
<div class="a" style="left:2143.1px;top:589.6px;width:3.8px;height:3.8px;border-radius:50%;background:#8f725f"></div>
<div class="a" style="left:2205.1px;top:589.6px;width:3.8px;height:3.8px;border-radius:50%;background:#8f725f"></div>
<div class="a" style="left:2104.7px;top:608.6px;width:3.8px;height:3.8px;border-radius:50%;background:#8f725f"></div>
<div class="a" style="left:2243.5px;top:608.6px;width:3.8px;height:3.8px;border-radius:50%;background:#8f725f"></div>
<div class="a" style="left:2112.4px;top:606.1px;width:3.8px;height:3.8px;border-radius:50%;background:#8f725f"></div>
<div class="a" style="left:2235.8px;top:606.1px;width:3.8px;height:3.8px;border-radius:50%;background:#8f725f"></div>
<div class="a" style="left:2120.0px;top:603.5px;width:3.8px;height:3.8px;border-radius:50%;background:#8f725f"></div>
<div class="a" style="left:2228.2px;top:603.5px;width:3.8px;height:3.8px;border-radius:50%;background:#8f725f"></div>
<div class="a" style="left:2127.7px;top:600.9px;width:3.8px;height:3.8px;border-radius:50%;background:#8f725f"></div>
<div class="a" style="left:2220.5px;top:600.9px;width:3.8px;height:3.8px;border-radius:50%;background:#8f725f"></div>
<div class="a" style="left:2135.4px;top:598.4px;width:3.8px;height:3.8px;border-radius:50%;background:#8f725f"></div>
<div class="a" style="left:2212.8px;top:598.4px;width:3.8px;height:3.8px;border-radius:50%;background:#8f725f"></div>
<div class="a" style="left:2143.1px;top:595.8px;width:3.8px;height:3.8px;border-radius:50%;background:#8f725f"></div>
<div class="a" style="left:2205.1px;top:595.8px;width:3.8px;height:3.8px;border-radius:50%;background:#8f725f"></div>
<div class="a" style="left:2130px;top:658px;width:10px;height:10px;font-size:8px;line-height:10px;color:#333">®</div>
<!-- J-EI8043 -->
<div class="a" style="left:2361px;top:466px;width:229px;height:228px;border-radius:16px;background:linear-gradient(135deg,#f9f9f9,#f2f2f2 60%,#e6e6e6);box-shadow:inset -2px -3px 4px rgba(0,0,0,.05)"></div>
<div class="a" style="left:2368px;top:473px;width:214px;height:214px;border-radius:24px;background:linear-gradient(#ededed,#ebebeb);box-shadow:0 0 0 1px rgba(0,0,0,.04)"></div>
<svg class="a" style="left:2400px;top:485px" width="150" height="20"><text x="9.6" y="14.5" font-size="11" textLength="131" lengthAdjust="spacingAndGlyphs" fill="#2f3033" stroke="#2f3033" stroke-width=".3">J-EI8043型输入/输出模块</text></svg>
<div class="a" style="left:2410px;top:507px;width:28px;height:2px;background:#e6cf74"></div>
<div class="a" style="left:2512px;top:507px;width:28px;height:2px;background:#e6cf74"></div>
<div class="a" style="left:2440px;top:503px;width:70px;text-align:center;font-size:6px;line-height:9px;color:#333;white-space:nowrap;font-family:'Liberation Mono',monospace">Input/Output Module</div>
<div class="a" style="left:2410.0px;top:520px;width:4px;height:10px;border-radius:2px;background:#2a2a2a"></div>
<div class="a" style="left:2441.8px;top:520px;width:4px;height:10px;border-radius:2px;background:#2a2a2a"></div>
<div class="a" style="left:2473.0px;top:520px;width:4px;height:10px;border-radius:2px;background:#2a2a2a"></div>
<div class="a" style="left:2505.0px;top:520px;width:4px;height:10px;border-radius:2px;background:#2a2a2a"></div>
<div class="a" style="left:2536.6px;top:520px;width:4px;height:10px;border-radius:2px;background:#2a2a2a"></div>
<div class="a" style="left:2397.0px;top:536px;width:30px;text-align:center;font-size:7px;line-height:9px;color:#3a3a3a;white-space:nowrap">输出<br>动作<br><span style="font-size:5px;line-height:7px;font-family:'Liberation Mono',monospace">Output<br>Action</span></div>
<div class="a" style="left:2428.8px;top:536px;width:30px;text-align:center;font-size:7px;line-height:9px;color:#3a3a3a;white-space:nowrap">输入<br>动作<br><span style="font-size:5px;line-height:7px;font-family:'Liberation Mono',monospace">Input<br>Action</span></div>
<!-- J-EI8085 red alarm -->
<svg class="a" style="left:2705px;top:460px" width="170" height="240" viewBox="0 0 170 240">
  <defs>
    <linearGradient id="redIn" x1="0" y1="0" x2="1" y2="1"><stop offset="0" stop-color="#ef3a33"/><stop offset="1" stop-color="#d9201f"/></linearGradient>
    <pattern id="lensP" x="2" y="2" width="7.2" height="7.2" patternUnits="userSpaceOnUse"><rect width="7.2" height="7.2" fill="#eef0ec"/><rect x="1.3" y="1.3" width="4.6" height="4.6" fill="#f6f6f4" stroke="#4f7f5f" stroke-width="1.2"/></pattern>
  </defs>
  <rect x="5.5" y="5" width="156.5" height="227" rx="14" fill="#e42a2a"/>
  <rect x="14" y="13" width="139" height="210" rx="20" fill="#dc262b" stroke="#7a1515" stroke-width="1"/>
  <rect x="29" y="25" width="112" height="186" rx="18" fill="url(#redIn)"/>
  <g fill="none" stroke="#231515" stroke-width="3.6">
    <circle cx="85.4" cy="79" r="13"/><circle cx="85.4" cy="79" r="20.5"/><circle cx="85.4" cy="79" r="28"/>
  </g>
  <g stroke="#e4292c" stroke-width="5.5">
    <line x1="85.4" y1="48" x2="85.4" y2="66"/><line x1="85.4" y1="92" x2="85.4" y2="110"/><line x1="54" y1="79" x2="72" y2="79"/><line x1="99" y1="79" x2="116" y2="79"/>
  </g>
  <path d="M76 84 L82 76 L79 77 L86 71 L94 70 L90 75 L88 82 L82 81 Z" fill="#f2e6e0"/>
  <text x="85.4" y="125.5" text-anchor="middle" font-family="Liberation Sans,sans-serif" font-size="8.5" font-weight="bold" fill="#f7efe6">FIRE</text>
  <path d="M29 137 L137 137 L137 194 Q137 210 121 210 L45 210 Q29 210 29 194 Z" fill="url(#lensP)"/>
  <path d="M29 137 L137 137 L137 194 Q137 210 121 210 L45 210 Q29 210 29 194 Z" fill="#ffffff" fill-opacity=".25" stroke="#d9d9d9" stroke-width="1"/>
</svg>
<!--/P5-->
<!--P6-->
<!-- EI-N60 -->
<div class="a" style="left:1182px;top:981px;width:27px;height:452px;background:linear-gradient(90deg,#c0262b,#d52a2f 40%,#d92c30)"></div>
<div class="a" style="left:1459px;top:981px;width:26px;height:452px;background:linear-gradient(90deg,#d62a2e,#dc2c31 60%,#cf282c)"></div>
<div class="a" style="left:1208px;top:981px;width:251px;height:452px;background:#212121"></div>
<div class="a" style="left:1208px;top:981px;width:251px;height:47px;background:linear-gradient(#2a2a2a,#242424)"></div>
<div class="a" style="left:1208px;top:1028px;width:251px;height:1.5px;background:#4a4a4a"></div>
<svg class="a" style="left:1220px;top:984px" width="230" height="42"><text x="8" y="20" textLength="210" lengthAdjust="spacingAndGlyphs" font-size="16.5" fill="#e8e6e0">EI-N60型可燃气体报警控制器</text><text x="8" y="37.5" textLength="210" lengthAdjust="spacingAndGlyphs" font-size="12" fill="#d8d6d0">EI-N60 TYPE COMBUSTIBLE GAS ALARM CONTROL UNIT</text></svg>

<div class="a" style="left:1224.6px;top:1042.0px;width:21px;height:10px;border:1px solid #bdbdbd;border-radius:2px;background:#3a3a3a"><div style="position:absolute;left:1px;top:1px;width:14px;height:3px;background:#cfcfcf"></div><div style="position:absolute;left:1px;top:5px;width:14px;height:2.5px;background:#9a9a9a"></div></div>
<div class="a" style="left:1247.9px;top:1042.0px;width:21px;height:10px;border:1px solid #bdbdbd;border-radius:2px;background:#3a3a3a"><div style="position:absolute;left:1px;top:1px;width:14px;height:3px;background:#cfcfcf"></div><div style="position:absolute;left:1px;top:5px;width:14px;height:2.5px;background:#9a9a9a"></div></div>
<div class="a" style="left:1271.2px;top:1042.0px;width:21px;height:10px;border:1px solid #bdbdbd;border-radius:2px;background:#3a3a3a"><div style="position:absolute;left:1px;top:1px;width:14px;height:3px;background:#cfcfcf"></div><div style="position:absolute;left:1px;top:5px;width:14px;height:2.5px;background:#9a9a9a"></div></div>
<div class="a" style="left:1294.5px;top:1042.0px;width:21px;height:10px;border:1px solid #bdbdbd;border-radius:2px;background:#3a3a3a"><div style="position:absolute;left:1px;top:1px;width:14px;height:3px;background:#cfcfcf"></div><div style="position:absolute;left:1px;top:5px;width:14px;height:2.5px;background:#9a9a9a"></div></div>
<div class="a" style="left:1224.6px;top:1057.4px;width:21px;height:10px;border:1px solid #bdbdbd;border-radius:2px;background:#3a3a3a"><div style="position:absolute;left:1px;top:1px;width:14px;height:3px;background:#cfcfcf"></div><div style="position:absolute;left:1px;top:5px;width:14px;height:2.5px;background:#9a9a9a"></div></div>
<div class="a" style="left:1247.9px;top:1057.4px;width:21px;height:10px;border:1px solid #bdbdbd;border-radius:2px;background:#3a3a3a"><div style="position:absolute;left:1px;top:1px;width:14px;height:3px;background:#cfcfcf"></div><div style="position:absolute;left:1px;top:5px;width:14px;height:2.5px;background:#9a9a9a"></div></div>
<div class="a" style="left:1271.2px;top:1057.4px;width:21px;height:10px;border:1px solid #bdbdbd;border-radius:2px;background:#3a3a3a"><div style="position:absolute;left:1px;top:1px;width:14px;height:3px;background:#cfcfcf"></div><div style="position:absolute;left:1px;top:5px;width:14px;height:2.5px;background:#9a9a9a"></div></div>
<div class="a" style="left:1294.5px;top:1057.4px;width:21px;height:10px;border:1px solid #bdbdbd;border-radius:2px;background:#3a3a3a"><div style="position:absolute;left:1px;top:1px;width:14px;height:3px;background:#cfcfcf"></div><div style="position:absolute;left:1px;top:5px;width:14px;height:2.5px;background:#9a9a9a"></div></div>
<div class="a" style="left:1224.6px;top:1072.8px;width:21px;height:10px;border:1px solid #bdbdbd;border-radius:2px;background:#3a3a3a"><div style="position:absolute;left:1px;top:1px;width:14px;height:3px;background:#cfcfcf"></div><div style="position:absolute;left:1px;top:5px;width:14px;height:2.5px;background:#9a9a9a"></div></div>
<div class="a" style="left:1247.9px;top:1072.8px;width:21px;height:10px;border:1px solid #bdbdbd;border-radius:2px;background:#3a3a3a"><div style="position:absolute;left:1px;top:1px;width:14px;height:3px;background:#cfcfcf"></div><div style="position:absolute;left:1px;top:5px;width:14px;height:2.5px;background:#9a9a9a"></div></div>
<div class="a" style="left:1271.2px;top:1072.8px;width:21px;height:10px;border:1px solid #bdbdbd;border-radius:2px;background:#3a3a3a"><div style="position:absolute;left:1px;top:1px;width:14px;height:3px;background:#cfcfcf"></div><div style="position:absolute;left:1px;top:5px;width:14px;height:2.5px;background:#9a9a9a"></div></div>
<div class="a" style="left:1294.5px;top:1072.8px;width:21px;height:10px;border:1px solid #bdbdbd;border-radius:2px;background:#3a3a3a"><div style="position:absolute;left:1px;top:1px;width:14px;height:3px;background:#cfcfcf"></div><div style="position:absolute;left:1px;top:5px;width:14px;height:2.5px;background:#9a9a9a"></div></div>
<div class="a" style="left:1224.6px;top:1088.2px;width:21px;height:10px;border:1px solid #bdbdbd;border-radius:2px;background:#3a3a3a"><div style="position:absolute;left:1px;top:1px;width:14px;height:3px;background:#cfcfcf"></div><div style="position:absolute;left:1px;top:5px;width:14px;height:2.5px;background:#9a9a9a"></div></div>
<div class="a" style="left:1247.9px;top:1088.2px;width:21px;height:10px;border:1px solid #bdbdbd;border-radius:2px;background:#3a3a3a"><div style="position:absolute;left:1px;top:1px;width:14px;height:3px;background:#cfcfcf"></div><div style="position:absolute;left:1px;top:5px;width:14px;height:2.5px;background:#9a9a9a"></div></div>
<div class="a" style="left:1271.2px;top:1088.2px;width:21px;height:10px;border:1px solid #bdbdbd;border-radius:2px;background:#3a3a3a"><div style="position:absolute;left:1px;top:1px;width:14px;height:3px;background:#cfcfcf"></div><div style="position:absolute;left:1px;top:5px;width:14px;height:2.5px;background:#9a9a9a"></div></div>
<div class="a" style="left:1294.5px;top:1088.2px;width:21px;height:10px;border:1px solid #bdbdbd;border-radius:2px;background:#3a3a3a"><div style="position:absolute;left:1px;top:1px;width:14px;height:3px;background:#cfcfcf"></div><div style="position:absolute;left:1px;top:5px;width:14px;height:2.5px;background:#9a9a9a"></div></div>
<div class="a" style="left:1238px;top:1114px;font-size:11px;line-height:13px;color:#e8e6e0;white-space:nowrap;font-family:'Liberation Serif',serif;font-weight:bold;letter-spacing:2px">防火于未燃</div>
<div class="a" style="left:1258px;top:1129px;font-size:11px;line-height:13px;color:#e8e6e0;white-space:nowrap;font-family:'Liberation Serif',serif;font-weight:bold;letter-spacing:2px">依爱保平安</div>
<div class="a" style="left:1342px;top:1033px;width:103px;height:123px;border-radius:3px;background:linear-gradient(135deg,#766446,#5f5038 50%,#6e5c41)"></div>
<div class="a" style="left:1353px;top:1035px;width:81px;height:53px;background:#1b1b1b"></div>
<svg class="a" style="left:1360px;top:1042px" width="67" height="38" viewBox="0 0 162 100" preserveAspectRatio="none"><use href="#scr"/></svg>
<div class="a" style="left:1352.4px;top:1093.9px;width:14px;height:9px;border-radius:50%;background:radial-gradient(#f5f2ea,#dcd6c6);box-shadow:0 0 0 .7px #2a2418"><div style="position:absolute;left:5px;top:2px;width:4px;height:5px;border-top:1.5px solid #333;border-bottom:1.5px solid #333"></div></div>
<div class="a" style="left:1374.9px;top:1093.9px;width:14px;height:9px;border-radius:50%;background:radial-gradient(#f5f2ea,#dcd6c6);box-shadow:0 0 0 .7px #2a2418"><div style="position:absolute;left:5px;top:2px;width:4px;height:5px;border-top:1.5px solid #333;border-bottom:1.5px solid #333"></div></div>
<div class="a" style="left:1397.3px;top:1093.9px;width:14px;height:9px;border-radius:50%;background:radial-gradient(#f5f2ea,#dcd6c6);box-shadow:0 0 0 .7px #2a2418"><div style="position:absolute;left:5px;top:2px;width:4px;height:5px;border-top:1.5px solid #333;border-bottom:1.5px solid #333"></div></div>
<div class="a" style="left:1419.8px;top:1093.9px;width:14px;height:9px;border-radius:50%;background:radial-gradient(#f5f2ea,#dcd6c6);box-shadow:0 0 0 .7px #2a2418"><div style="position:absolute;left:5px;top:2px;width:4px;height:5px;border-top:1.5px solid #333;border-bottom:1.5px solid #333"></div></div>
<div class="a" style="left:1352.4px;top:1105.9px;width:14px;height:9px;border-radius:50%;background:radial-gradient(#f5f2ea,#dcd6c6);box-shadow:0 0 0 .7px #2a2418"><div style="position:absolute;left:5px;top:2px;width:4px;height:5px;border-top:1.5px solid #333;border-bottom:1.5px solid #333"></div></div>
<div class="a" style="left:1374.9px;top:1105.9px;width:14px;height:9px;border-radius:50%;background:radial-gradient(#f5f2ea,#dcd6c6);box-shadow:0 0 0 .7px #2a2418"><div style="position:absolute;left:5px;top:2px;width:4px;height:5px;border-top:1.5px solid #333;border-bottom:1.5px solid #333"></div></div>
<div class="a" style="left:1397.3px;top:1105.9px;width:14px;height:9px;border-radius:50%;background:radial-gradient(#f5f2ea,#dcd6c6);box-shadow:0 0 0 .7px #2a2418"><div style="position:absolute;left:5px;top:2px;width:4px;height:5px;border-top:1.5px solid #333;border-bottom:1.5px solid #333"></div></div>
<div class="a" style="left:1419.8px;top:1105.9px;width:14px;height:9px;border-radius:50%;background:radial-gradient(#f5f2ea,#dcd6c6);box-shadow:0 0 0 .7px #2a2418"><div style="position:absolute;left:5px;top:2px;width:4px;height:5px;border-top:1.5px solid #333;border-bottom:1.5px solid #333"></div></div>
<div class="a" style="left:1352.4px;top:1118.3px;width:14px;height:9px;border-radius:50%;background:radial-gradient(#f5f2ea,#dcd6c6);box-shadow:0 0 0 .7px #2a2418"><div style="position:absolute;left:5px;top:2px;width:4px;height:5px;border-top:1.5px solid #333;border-bottom:1.5px solid #333"></div></div>
<div class="a" style="left:1374.9px;top:1118.3px;width:14px;height:9px;border-radius:50%;background:radial-gradient(#f5f2ea,#dcd6c6);box-shadow:0 0 0 .7px #2a2418"><div style="position:absolute;left:5px;top:2px;width:4px;height:5px;border-top:1.5px solid #333;border-bottom:1.5px solid #333"></div></div>
<div class="a" style="left:1397.3px;top:1118.3px;width:14px;height:9px;border-radius:50%;background:radial-gradient(#f5f2ea,#dcd6c6);box-shadow:0 0 0 .7px #2a2418"><div style="position:absolute;left:5px;top:2px;width:4px;height:5px;border-top:1.5px solid #333;border-bottom:1.5px solid #333"></div></div>
<div class="a" style="left:1419.8px;top:1118.3px;width:14px;height:9px;border-radius:50%;background:radial-gradient(#f5f2ea,#dcd6c6);box-shadow:0 0 0 .7px #2a2418"><div style="position:absolute;left:5px;top:2px;width:4px;height:5px;border-top:1.5px solid #333;border-bottom:1.5px solid #333"></div></div>
<div class="a" style="left:1352.4px;top:1130.5px;width:14px;height:9px;border-radius:50%;background:radial-gradient(#f5f2ea,#dcd6c6);box-shadow:0 0 0 .7px #2a2418"><div style="position:absolute;left:5px;top:2px;width:4px;height:5px;border-top:1.5px solid #333;border-bottom:1.5px solid #333"></div></div>
<div class="a" style="left:1374.9px;top:1130.5px;width:14px;height:9px;border-radius:50%;background:radial-gradient(#f5f2ea,#dcd6c6);box-shadow:0 0 0 .7px #2a2418"><div style="position:absolute;left:5px;top:2px;width:4px;height:5px;border-top:1.5px solid #333;border-bottom:1.5px solid #333"></div></div>
<div class="a" style="left:1397.3px;top:1130.5px;width:14px;height:9px;border-radius:50%;background:radial-gradient(#f5f2ea,#dcd6c6);box-shadow:0 0 0 .7px #2a2418"><div style="position:absolute;left:5px;top:2px;width:4px;height:5px;border-top:1.5px solid #333;border-bottom:1.5px solid #333"></div></div>
<div class="a" style="left:1419.8px;top:1130.5px;width:14px;height:9px;border-radius:50%;background:radial-gradient(#f5f2ea,#dcd6c6);box-shadow:0 0 0 .7px #2a2418"><div style="position:absolute;left:5px;top:2px;width:4px;height:5px;border-top:1.5px solid #333;border-bottom:1.5px solid #333"></div></div>
<div class="a" style="left:1352.4px;top:1142.9px;width:14px;height:9px;border-radius:50%;background:radial-gradient(#f5f2ea,#dcd6c6);box-shadow:0 0 0 .7px #2a2418"><div style="position:absolute;left:5px;top:2px;width:4px;height:5px;border-top:1.5px solid #333;border-bottom:1.5px solid #333"></div></div>
<div class="a" style="left:1374.9px;top:1142.9px;width:14px;height:9px;border-radius:50%;background:radial-gradient(#f5f2ea,#dcd6c6);box-shadow:0 0 0 .7px #2a2418"><div style="position:absolute;left:5px;top:2px;width:4px;height:5px;border-top:1.5px solid #333;border-bottom:1.5px solid #333"></div></div>
<div class="a" style="left:1397.3px;top:1142.9px;width:14px;height:9px;border-radius:50%;background:radial-gradient(#f5f2ea,#dcd6c6);box-shadow:0 0 0 .7px #2a2418"><div style="position:absolute;left:5px;top:2px;width:4px;height:5px;border-top:1.5px solid #333;border-bottom:1.5px solid #333"></div></div>
<div class="a" style="left:1419.8px;top:1142.9px;width:14px;height:9px;border-radius:50%;background:radial-gradient(#f5f2ea,#dcd6c6);box-shadow:0 0 0 .7px #2a2418"><div style="position:absolute;left:5px;top:2px;width:4px;height:5px;border-top:1.5px solid #333;border-bottom:1.5px solid #333"></div></div>
<div class="a" style="left:1208px;top:1190.7px;width:251px;height:1px;background:#5a5a5a"></div>
<div class="a" style="left:1208px;top:1222.0px;width:251px;height:1px;background:#5a5a5a"></div>
<div class="a" style="left:1208px;top:1253.5px;width:251px;height:1px;background:#5a5a5a"></div>
<div class="a" style="left:1208px;top:1285.0px;width:251px;height:1px;background:#5a5a5a"></div>
<div class="a" style="left:1208px;top:1380.5px;width:251px;height:1px;background:#5a5a5a"></div>
<div class="a" style="left:1343px;top:1291px;width:71px;height:1px;background:#444"></div>
<div class="a" style="left:1343px;top:1295px;width:60px;height:1px;background:#444"></div>
<div class="a" style="left:1343px;top:1329.5px;width:66px;height:1px;background:#444"></div>
<svg class="a" style="left:1370px;top:1385px" width="80" height="32" viewBox="1370 1385 80 32">
<polygon points="1377.9,1392 1384.8,1392 1377.9,1399" fill="#e0342f"/>
<polygon points="1387.2,1396.3 1393,1392 1393,1396.3" fill="#e3dbd0"/>
<polygon points="1377.9,1404.8 1383.3,1399.4 1393,1399.4 1393,1401 1384,1401 1384,1406.8 1393,1406.8 1393,1411 1377.9,1411" fill="#e3dbd0"/>
<rect x="1397.8" y="1392" width="6.2" height="4.1" fill="#e3dbd0"/>
<rect x="1397.8" y="1399" width="6.2" height="12" fill="#e3dbd0"/>
<text x="1410" y="1411" font-size="16.5" textLength="31" lengthAdjust="spacingAndGlyphs" fill="#e3dbd0">NET</text>
</svg>
<!-- JT-EI88NEx orange -->
<svg class="a" style="left:2370px;top:970px" width="280" height="290" viewBox="0 0 280 290">
  <defs>
    <radialGradient id="orR" cx="0.4" cy="0.35" r="0.75"><stop offset="0" stop-color="#f8914a"/><stop offset="0.55" stop-color="#f06d22"/><stop offset="1" stop-color="#dc561a"/></radialGradient>
    <linearGradient id="beige" x1="0" y1="0" x2="1" y2="1"><stop offset="0" stop-color="#e9e7d8"/><stop offset="1" stop-color="#d9d6c4"/></linearGradient>
    <linearGradient id="nut2" x1="0" y1="0" x2="0" y2="1"><stop offset="0" stop-color="#8d8c84"/><stop offset="0.4" stop-color="#e2e1d9"/><stop offset="0.7" stop-color="#b3b2a8"/><stop offset="1" stop-color="#76756d"/></linearGradient>
    <linearGradient id="blk" x1="0" y1="0" x2="0" y2="1"><stop offset="0" stop-color="#2a2a2a"/><stop offset="0.35" stop-color="#4a4a4a"/><stop offset="1" stop-color="#161616"/></linearGradient>
  </defs>
  <!-- steel cylinders -->
  <rect x="45" y="203.5" width="64" height="74" rx="3" fill="url(#steel)"/>
  <rect x="48" y="222" width="58" height="1.5" fill="#2a2a2a"/>
  <rect x="45" y="266" width="64" height="1" fill="#8a8e8c"/>
  <rect x="117.5" y="203.5" width="63.5" height="73" rx="3" fill="url(#steel)"/>
  <rect x="117.5" y="265" width="63.5" height="1" fill="#8a8e8c"/>
  <!-- necks -->
  <rect x="54" y="170" width="44" height="34" rx="3" fill="#dedbc8"/>
  <rect x="128" y="170" width="43" height="34" rx="3" fill="#dedbc8"/>
  <!-- top ear -->
  <path d="M88 42 L106 14 Q114 5 122 14 L140 42 Z" fill="#e4e1cf"/>
  <circle cx="114.3" cy="22" r="5" fill="#fff"/>
  <!-- flanges -->
  <path d="M41 70 L14 156 Q10 182 34 182 L190 182 Q214 182 210 156 L185 70 Z" fill="#e2dfcc"/>
  <circle cx="27" cy="170" r="5" fill="#fff"/>
  <circle cx="197" cy="170" r="5" fill="#fff"/>
  <!-- glands -->
  <rect x="27" y="46" width="15" height="44" rx="3" fill="#e0ddca"/>
  <rect x="8" y="50" width="20" height="37" rx="2" fill="url(#nut2)"/>
  <rect x="185" y="46" width="17" height="42" rx="3" fill="#e0ddca"/>
  <rect x="202" y="45" width="10" height="47" rx="2" fill="url(#nut2)"/>
  <path d="M212 50 L268 58 Q275 69 268 80 L212 88 Z" fill="url(#blk)"/>
  <!-- body -->
  <rect x="41" y="41" width="146" height="141" rx="5" fill="url(#beige)"/>
  <!-- ring -->
  <circle cx="115.7" cy="116.5" r="76.5" fill="url(#orR)"/>
  <g stroke="#fbb07a" stroke-width="5" stroke-opacity=".5" fill="none">
    <path d="M58 70 A70 70 0 0 1 96 48"/><path d="M150 52 A70 70 0 0 1 182 88"/><path d="M182 150 A70 70 0 0 1 148 184"/><path d="M80 186 A70 70 0 0 1 46 150"/>
  </g>
  <circle cx="115.5" cy="116.5" r="59" fill="#e2621f"/>
  <circle cx="115.5" cy="116.5" r="56" fill="#ee6b24"/>
  <circle cx="115" cy="115.7" r="49" fill="#eceae4"/>
  <circle cx="115" cy="115.7" r="49" fill="none" stroke="#cfcdc6" stroke-width="2"/>
  <path d="M98 90 L102 84 L100 84.5 L106 80 L114 78 L110 83 L108 88 L103 87 Z" fill="#2b5fae"/>
  <rect x="116" y="80" width="16" height="3" fill="#6f8bb5"/>
  <rect x="118" y="85" width="13" height="2.5" fill="#c0504d" fill-opacity=".7"/>
  <rect x="89.5" y="105" width="50.5" height="25.5" fill="#1c2b2c" stroke="#0f1516" stroke-width="1"/>
  <text x="93" y="124.5" font-family="Liberation Sans,sans-serif" font-size="16.5" font-style="italic" fill="#c9c9a0" fill-opacity=".7" letter-spacing="0.5">8.8.8.</text>
  <circle cx="86.4" cy="138.5" r="4" fill="#1f3a25"/><circle cx="104.8" cy="138.5" r="4" fill="#2b3b25"/>
  <circle cx="123" cy="138.5" r="4" fill="#4a1b1b"/><circle cx="141.4" cy="138.5" r="4" fill="#5a1d1d"/>
  <circle cx="112.8" cy="153" r="5.5" fill="#161818"/>
</svg>
<!--/P6-->

</body>
</html>
